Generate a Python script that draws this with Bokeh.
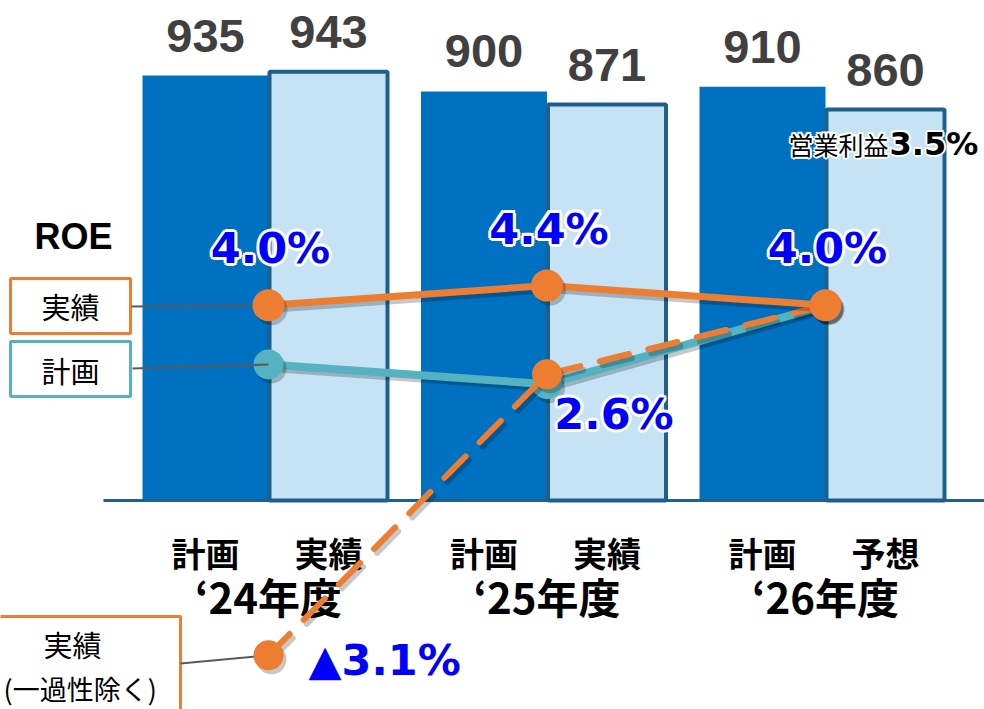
from bokeh.plotting import figure
from bokeh.models import Range1d
from bokeh.core.properties import value
from bokeh.embed import file_html
from bokeh.resources import INLINE

# ---------------- data ----------------
years = ["\u201824年度", "\u201825年度", "\u201826年度"]
plan_names = ["計画", "計画", "計画"]
result_names = ["実績", "実績", "予想"]
profit_plan = [935, 900, 910]        # 計画
profit_result = [943, 871, 860]      # 実績 / 予想
roe_result = [4.0, 4.4, 4.0]         # ROE 実績
roe_plan = [2.8, 2.4, 4.0]           # ROE 計画
roe_adjusted = [-3.1, 2.6, 4.0]      # ROE 実績(一過性除く)
margin_label = "営業利益"
margin_value = "3.5%"

# ---------------- page geometry (pixels of the 984x709 window) ----------------
PAGE_W, PAGE_H = 984, 709
G0, PITCH = 268.0, 278.5
BASE_Y, PX_PER_UNIT = 500.0, 1 / 2.2
ROE_ZERO_Y, PX_PER_PCT = 502.0, 49.3


def X(px):
    return (px - G0) / PITCH


def Y(py):
    return (BASE_Y - py) / PX_PER_UNIT


def R(py):
    return (ROE_ZERO_Y - py) / PX_PER_PCT


DARK = "#0070c0"
LIGHT = "#c5e3f4"
EDGE = "#1f5f8b"
ORANGE = "#ed7d31"
TEAL = "#55b3c1"
BLUE = "#0000ff"
NUM_GRAY = "#404040"

CJK = value("Noto Sans CJK JP")
SANS = value("Liberation Sans")
DJV = value("DejaVu Sans")

p = figure(width=PAGE_W, height=PAGE_H,
           x_range=Range1d(X(0), X(PAGE_W)), y_range=Range1d(Y(PAGE_H), Y(0)),
           x_axis_type=None, y_axis_type=None,
           output_backend="svg", toolbar_location=None, min_border=0)
p.extra_y_ranges = {"roe": Range1d(R(PAGE_H), R(0))}
p.outline_line_color = None
p.grid.visible = False
p.background_fill_color = "white"

g = list(range(len(years)))
dark_w = 126 / PITCH
light_w = 118 / PITCH
dark_x = [gi - 63 / PITCH for gi in g]
light_x = [gi + 60 / PITCH for gi in g]

# bars
p.vbar(x=dark_x, top=profit_plan, bottom=0, width=dark_w,
       fill_color=DARK, line_color=None)
p.vbar(x=light_x, top=profit_result, bottom=0, width=light_w,
       fill_color=LIGHT, line_color=EDGE, line_width=4)

# baseline
p.segment(x0=[X(103)], y0=[0], x1=[X(PAGE_W)], y1=[0], line_color=EDGE, line_width=3)

# bar value labels
p.text(x=dark_x, y=profit_plan, text=[str(v) for v in profit_plan], y_offset=-40,
       text_font=SANS, text_font_style="bold", text_font_size="47px",
       text_color=NUM_GRAY, text_align="center", text_baseline="middle")
p.text(x=light_x, y=profit_result, text=[str(v) for v in profit_result], y_offset=-40,
       text_font=SANS, text_font_style="bold", text_font_size="47px",
       text_color=NUM_GRAY, text_align="center", text_baseline="middle")

# category labels
p.text(x=dark_x, y=[Y(552)] * 3, text=plan_names, text_font=CJK, text_font_style="bold",
       text_font_size="34px", text_color="black", text_align="center", text_baseline="middle")
p.text(x=light_x, y=[Y(552)] * 3, text=result_names, text_font=CJK, text_font_style="bold",
       text_font_size="34px", text_color="black", text_align="center", text_baseline="middle")
p.text(x=g, y=[Y(595)] * 3, text=years, text_font=CJK, text_font_style="bold",
       text_font_size="42px", text_color="black", text_align="center", text_baseline="middle")

# legend boxes
p.quad(left=[X(10)], right=[X(130)], top=[Y(278)], bottom=[Y(333)],
       fill_color="white", line_color=ORANGE, line_width=3)
p.quad(left=[X(10)], right=[X(130)], top=[Y(341)], bottom=[Y(396)],
       fill_color="white", line_color=TEAL, line_width=3)
p.quad(left=[X(-20)], right=[X(180)], top=[Y(616)], bottom=[Y(760)],
       fill_color="white", line_color=ORANGE, line_width=3)
p.text(x=[X(70), X(70), X(72)], y=[Y(305), Y(369), Y(643)],
       text=["実績", "計画", "実績"], text_font=CJK,
       text_font_size="29px", text_color="black", text_align="center", text_baseline="middle")
p.text(x=[X(3)], y=[Y(688)], text=["(一過性除く)"], text_font=CJK,
       text_font_size="27px", text_color="black", text_align="left", text_baseline="middle")
p.text(x=[X(73)], y=[Y(236)], text=["ROE"], text_font=SANS, text_font_style="bold",
       text_font_size="36px", text_color="black", text_align="center", text_baseline="middle")

# shadow offsets (3px right, 4px down)
sdx = 3 / PITCH
sdy = -4 / PX_PER_PCT
SH = dict(line_color="black", line_alpha=0.22)
SHF = dict(fill_color="black", fill_alpha=0.22, line_color=None)

# ROE 計画 line
p.line([v + sdx for v in g], [v + sdy for v in roe_plan], y_range_name="roe", line_width=7, **SH)
p.line(g, roe_plan, y_range_name="roe", line_color=TEAL, line_width=8)
p.scatter([v + sdx for v in g], [v + sdy for v in roe_plan], y_range_name="roe", size=30, **SHF)
p.scatter(g, roe_plan, y_range_name="roe", size=30, fill_color=TEAL, line_color=None)

# connectors
p.segment(x0=[X(131), X(132), X(180)], y0=[R(306), R(368), R(663)],
          x1=[g[0]] * 3, y1=[roe_result[0], roe_plan[0], roe_adjusted[0]],
          y_range_name="roe", line_color="#595959", line_width=2)

# ROE 実績(一過性除く) dashed line
p.line([v + sdx for v in g], [v + sdy for v in roe_adjusted], y_range_name="roe", line_width=6,
       line_dash="30 20", line_cap="round", **SH)
p.line(g, roe_adjusted, y_range_name="roe", line_color=ORANGE, line_width=6,
       line_dash="30 20", line_cap="round")
p.scatter([v + sdx for v in g], [v + sdy for v in roe_adjusted], y_range_name="roe", size=30, **SHF)
p.scatter(g, roe_adjusted, y_range_name="roe", size=30, fill_color=ORANGE, line_color=None)

# ROE 実績 line
p.line([v + sdx for v in g], [v + sdy for v in roe_result], y_range_name="roe", line_width=7, **SH)
p.line(g, roe_result, y_range_name="roe", line_color=ORANGE, line_width=7)
p.scatter([v + sdx for v in g], [v + sdy for v in roe_result], y_range_name="roe", size=32, **SHF)
p.scatter(g, roe_result, y_range_name="roe", size=32, fill_color=ORANGE, line_color=None)


def fmt(v):
    return ("▲" if v < 0 else "") + f"{abs(v):.1f}%"


def halo_text(xs, ys, texts, size, font, color, xo, yo, align, yr="default", style="bold", r=3):
    offs = [(r, 0), (-r, 0), (0, r), (0, -r), (r * .7, r * .7), (-r * .7, r * .7),
            (r * .7, -r * .7), (-r * .7, -r * .7)]
    for dx, dy in offs:
        p.text(x=xs, y=ys, text=texts, x_offset=xo + dx, y_offset=yo + dy,
               y_range_name=yr, text_font=font, text_font_style=style,
               text_font_size=size, text_color="white", text_align=align,
               text_baseline="middle")
    p.text(x=xs, y=ys, text=texts, x_offset=xo, y_offset=yo, y_range_name=yr,
           text_font=font, text_font_style=style, text_font_size=size,
           text_color=color, text_align=align, text_baseline="middle")


halo_text(g, roe_result, [fmt(v) for v in roe_result], "43px", DJV, BLUE, 2, -57, "center", "roe")
halo_text([g[1]], [roe_adjusted[1]], [fmt(roe_adjusted[1])], "43px", DJV, BLUE, 67, 40, "center", "roe")
halo_text([g[0]], [roe_adjusted[0]], [fmt(roe_adjusted[0])], "43px", DJV, BLUE, 40, 5, "left", "roe")

# operating margin note
halo_text([X(888)], [Y(143)], [margin_label], "25px", CJK, "black", 0, 0, "right", style="normal", r=2)
halo_text([X(888)], [Y(143)], [margin_value], "32px", DJV, "black", 1, 0, "left", r=2)

open("out.html", "w").write(file_html(p, INLINE))
